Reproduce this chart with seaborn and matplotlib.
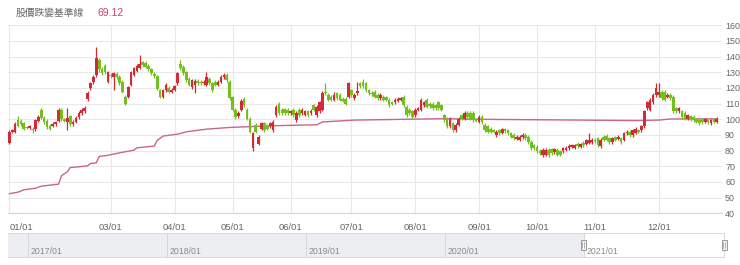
import numpy as np
import pandas as pd
import matplotlib
matplotlib.use("Agg")
import matplotlib.pyplot as plt
import seaborn as sns
from matplotlib.patches import Rectangle
from matplotlib.lines import Line2D

# ---------------- data ----------------
title_text = "股價跌變基準線"
title_value = "69.12"

month_idx = [0, 35, 57, 77, 97, 118, 140, 162, 182, 202, 224]
month_labels = ["01/01", "03/01", "04/01", "05/01", "06/01", "07/01",
                "08/01", "09/01", "10/01", "11/01", "12/01"]

opens = [
    # Jan-Feb
    85, 92, 92, 99.5, 99, 97.5, 95, 94.5, 94, 93.5, 99, 106, 101, 99, 96, 96, 97, 99, 106, 100,
    98, 102, 97, 98.5, 101.5, 104, 105, 113, 120, 123.5, 128, 138, 132, 134, 124,
    # Mar
    128.5, 127, 129, 127, 124, 114.5, 114.5, 122, 128.5, 131, 133, 136.5, 136, 134, 132, 129,
    127.5, 118.5, 114.5, 118.5, 120, 117.5,
    # Apr
    119, 123, 135.5, 133.5, 130, 126, 120.5, 122, 124.5, 124, 123, 122, 126, 123, 124, 122,
    124, 127, 128.5, 124,
    # May
    114.5, 106, 102, 106, 113, 106, 100.5, 81.5, 96.5, 84.5, 94, 97.5, 96, 95.5, 93, 102.5,
    110, 106, 106.5, 106,
    # Jun
    104, 106, 99.5, 106, 104, 103, 105, 104, 109, 102.5, 105, 106, 117.5, 115.5, 114.5, 112.5,
    116.5, 115.5, 113, 113, 114.5,
    # Jul
    118.5, 113.5, 116.5, 123, 124, 123, 118.5, 117, 117.5, 115.5, 113.5, 114.5, 114, 112.5,
    111, 111, 112, 112.5, 114.5, 108, 106, 105,
    # Aug
    102.5, 106, 106, 109, 112.5, 110, 110, 109, 111, 109, 102.5, 100.5, 95.5, 97.5, 93, 96.5,
    102.5, 100.5, 104, 104, 104, 100,
    # Sep
    98.5, 101.5, 96.5, 95.5, 94, 93, 90, 93, 91.5, 93.5, 93, 91, 90, 87.5, 87, 88.5, 90, 89,
    85.5, 83.5,
    # Oct
    82.5, 80, 77, 77.5, 80.5, 81, 79, 80.5, 79.5, 79.5, 80.5, 81.5, 82.5, 82, 84.5, 82.5, 85,
    84.5, 85, 85.5,
    # Nov
    87, 88, 83, 89, 89.5, 88, 85.5, 88.5, 87.5, 88, 87, 91, 92, 90, 91.5, 93, 93, 95.5, 107,
    106, 111, 115.5,
    # Dec
    115.5, 117.5, 117.5, 114.5, 115.5, 114.5, 107, 105, 105, 104, 100.5, 102, 101.5, 100, 99.5,
    100, 98.5, 99.5, 97.5, 100, 98.5,
]
closes = [
    92, 93, 97, 96, 97, 94, 94.5, 95.5, 93, 99.5, 101.5, 101, 98, 95, 94, 97, 98, 106, 100, 99,
    101, 97, 98.5, 101, 104, 106, 107.5, 117, 123, 127, 139, 132, 129.5, 130, 130,
    127.5, 129.5, 127, 123, 117.5, 110, 120.5, 130, 132.5, 134, 135, 134.5, 133.5, 132, 129.5,
    127.5, 119.5, 114.5, 118.5, 122, 117.5, 119,
    121, 129.5, 132.5, 129.5, 125, 122, 125, 124.5, 123, 123, 124, 127, 123, 118.5, 122, 124,
    127, 128.5, 125, 113.5,
    106, 101.5, 104, 112, 109, 100.5, 92, 91, 92, 89, 97.5, 93, 94, 97.5, 98.5, 108, 104, 104,
    104, 104,
    105, 102.5, 104, 102.5, 106, 105, 102.5, 105.5, 106, 108, 111, 117, 116.5, 112.5, 112.5,
    115.5, 113.5, 112.5, 112, 110, 123,
    115.5, 115.5, 118, 121, 121, 118.5, 116.5, 116, 114.5, 113.5, 115.5, 112.5, 112.5, 109,
    110, 112.5, 113, 113.5, 109, 102.5, 104, 101.5,
    106, 107, 112.5, 111, 108, 108.5, 107, 107, 107, 106, 99.5, 95.5, 100.5, 93, 96.5, 100.5,
    100.5, 104, 101.5, 100.5, 99.5, 99,
    101.5, 98, 93, 92, 92, 92, 92, 91, 93.5, 92.5, 91, 89, 88, 89, 89, 90, 88, 85.5, 81.5, 81.5,
    79.5, 78.5, 80.5, 80.5, 77, 78.5, 81, 77.5, 77.5, 81.5, 82, 83, 83.5, 83.5, 83, 84, 83.5,
    86.5, 87, 87,
    86, 83.5, 87, 87, 87, 85.5, 88, 87, 89, 85.5, 91, 92, 90, 93, 94, 92, 95.5, 105, 111, 112.5,
    115.5, 120,
    117.5, 113.5, 112.5, 115.5, 113.5, 105, 105, 107, 101.5, 100.5, 102.5, 100, 99.5, 98.5, 97.5,
    98, 100, 98, 99.5, 98.5, 100.5,
]
highs = [
    93, 94, 98, 102, 100, 98.5, 96, 96.5, 95, 100.5, 102.5, 107, 102, 100, 97, 98, 99, 107, 107,
    101, 107, 103, 99.5, 102, 105, 107, 108.5, 118, 124, 128, 146, 139, 133.5, 135, 131,
    129.5, 130.5, 130, 128, 125, 115.5, 121.5, 131, 133.5, 135, 141, 137.5, 137, 135, 133, 130,
    128.5, 119.5, 119.5, 123, 121, 120,
    122, 130.5, 138, 134.5, 131, 127, 126, 125.5, 125.5, 125, 125, 130, 127, 124, 125, 125, 128,
    129.5, 129.5, 125,
    115, 107, 105, 113, 114, 107, 101.5, 92, 97.5, 90, 98.5, 98.5, 97, 98.5, 99.5, 109, 111, 107,
    107.5, 107,
    106, 107, 105, 107, 107, 106, 106, 106.5, 110, 109, 112, 118, 123, 116.5, 115.5, 117.5,
    117.5, 116.5, 114, 114, 124,
    119.5, 116.5, 124, 124, 126, 124, 119.5, 118, 118.5, 116.5, 116.5, 115.5, 115, 113.5, 112,
    113.5, 114, 114.5, 115.5, 109, 107, 106,
    107, 108, 113.5, 112, 113.5, 111, 111, 110, 112, 110, 103.5, 101.5, 101.5, 98.5, 97.5,
    101.5, 103.5, 105, 105, 105, 105, 101,
    102.5, 102.5, 97.5, 96.5, 95, 94, 93, 94, 94.5, 94.5, 94, 92, 91, 90, 90, 91, 91, 90, 86.5,
    84.5,
    83.5, 81, 81.5, 81.5, 81.5, 82, 82, 81.5, 80.5, 82.5, 83, 84, 84.5, 84.5, 85.5, 85, 86, 87.5,
    91.5, 88,
    88, 89, 88, 90, 90.5, 89, 89, 89.5, 90, 89, 92, 93, 93, 94, 95, 94, 96.5, 106, 112, 113.5,
    116.5, 123,
    123, 118.5, 118.5, 116.5, 116.5, 115.5, 108, 108, 106, 105, 103.5, 103, 102.5, 101, 100.5,
    101, 101, 100.5, 100.5, 101, 101.5,
]
lows = [
    84, 91, 91, 95, 96, 93, 93.5, 93.5, 91, 92.5, 98, 100, 97, 94, 93, 95, 96, 98, 99, 98, 93,
    96, 96, 97.5, 100.5, 103, 104, 112, 119, 122.5, 127, 130.5, 128.5, 129, 123,
    126.5, 119, 126, 122, 116.5, 109, 113.5, 121, 127.5, 130, 132, 133.5, 132.5, 131, 128.5,
    126.5, 118.5, 113.5, 113.5, 117.5, 116.5, 116.5,
    118, 122, 131.5, 128.5, 124, 121, 119.5, 116.5, 122, 122, 122, 121, 122, 117.5, 121, 121,
    123, 126, 124, 112.5,
    105, 100.5, 101, 105, 108, 99.5, 91, 80, 91, 83.5, 93, 92, 93, 94.5, 92, 101.5, 103, 103,
    103, 103,
    103, 101.5, 98.5, 101.5, 103, 102, 101.5, 103, 105, 101.5, 104, 105, 115.5, 111.5, 111.5,
    111.5, 112.5, 111.5, 111, 109, 113.5,
    114.5, 112.5, 115.5, 120, 120, 117.5, 115.5, 115, 113.5, 112.5, 112.5, 111.5, 111.5, 108,
    109, 110, 111, 111.5, 108, 101.5, 103, 100.5,
    101.5, 105, 105, 108, 107, 107.5, 106, 106, 106, 105, 98.5, 94.5, 94.5, 92, 92, 95.5, 99.5,
    99.5, 100.5, 99.5, 98.5, 98,
    97.5, 97, 92, 91, 91, 91, 89, 90, 90.5, 91.5, 90, 88, 87, 86.5, 86, 87.5, 87, 84.5, 80.5,
    80.5,
    78.5, 77.5, 76, 76.5, 76, 77.5, 78, 76.5, 76.5, 78.5, 79.5, 80.5, 81.5, 81, 82, 81.5, 82.5,
    83.5, 84, 84.5,
    85, 82.5, 82, 86, 86, 84.5, 84.5, 86, 86.5, 84.5, 86, 90, 89, 89, 90.5, 91, 92, 94.5, 106,
    105, 110, 114.5,
    114.5, 112.5, 111.5, 113.5, 112.5, 104, 104, 104, 100.5, 99.5, 99.5, 99, 98.5, 97.5, 96.5,
    97, 97.5, 97, 96.5, 97.5, 97.5,
]

base_idx = [0, 3, 5, 9, 11, 17, 18, 20, 21, 24, 27, 28, 30, 31, 34, 38, 43, 44, 50, 51,
            53, 58, 61, 68, 76, 91, 106, 108, 119, 133, 150, 162, 190, 216, 224, 228, 244]
base_val = [52.5, 53.5, 55, 56, 57.3, 58.6, 64, 66.5, 69.2, 69.7, 70.3, 71.8, 72.2, 76.3,
            77, 78.6, 80.3, 81.8, 82.9, 86.5, 89.3, 90.5, 92, 93.7, 94.8, 95.9, 96.5, 98.3,
            99.5, 99.9, 100.4, 100, 99.6, 99.2, 99.5, 100.2, 100.3]

y_ticks = [40, 50, 60, 70, 80, 90, 100, 110, 120, 130, 140, 150, 160]
nav_years = [2017, 2018, 2019, 2020, 2021]
nav_labels = ["2017/01", "2018/01", "2019/01", "2020/01", "2021/01"]

# ---------------- style ----------------
sns.set_theme(style="white")
plt.rcParams["font.family"] = ["Liberation Sans", "Noto Sans CJK TC", "DejaVu Sans"]

UP = "#d22b34"
DOWN = "#74bf1e"
LINE = "#c9668c"
GRID = "#e9e9e9"
TXT = "#666666"

W, H = 740, 265
fig = plt.figure(figsize=(W / 100, H / 100), dpi=100)
fig.patch.set_facecolor("white")


def rect(x0, y0, x1, y1):
    return [x0 / W, 1 - y1 / H, (x1 - x0) / W, (y1 - y0) / H]


ax = fig.add_axes(rect(8, 25.3, 722, 213.3))

df = pd.DataFrame({"open": opens, "high": highs, "low": lows, "close": closes})
df["idx"] = np.arange(len(df))
df["up"] = df["close"] >= df["open"]

# grid
for yv in y_ticks:
    ax.axhline(yv, color=GRID, lw=0.8, zorder=0)
for xv in month_idx:
    ax.axvline(xv, color=GRID, lw=0.8, zorder=0)

# baseline
sns.lineplot(x=base_idx, y=base_val, ax=ax, color=LINE, lw=1.0, zorder=2)

# candles
cols = np.where(df["up"], UP, DOWN)
ax.vlines(df["idx"], df["low"], df["high"], colors=cols, lw=0.9, zorder=3)
body_lo = np.minimum(df["open"], df["close"])
body_h = np.maximum(np.abs(df["close"] - df["open"]), 0.6)
ax.bar(df["idx"], body_h, bottom=body_lo, width=0.92, color=cols, linewidth=0, zorder=4)

ax.set_xlim(-0.45, 245.8)
ax.set_ylim(40, 160)
for s in ["top", "left", "right"]:
    ax.spines[s].set_visible(False)
ax.spines["bottom"].set_color("#ccd6eb")
ax.spines["bottom"].set_linewidth(0.8)

ax.yaxis.tick_right()
ax.set_yticks(y_ticks)
ax.set_yticklabels([str(v) for v in y_ticks])
ax.tick_params(axis="y", length=0, pad=2.2, labelsize=6.4, labelcolor=TXT)
ax.set_xticks(month_idx)
ax.set_xticklabels(month_labels)
ax.tick_params(axis="x", length=4, width=0.8, color="#ccd6eb", pad=3,
               labelsize=6.8, labelcolor=TXT)
ax.get_xticklabels()[0].set_horizontalalignment("left")
ax.set_xlabel("")
ax.set_ylabel("")
ax.grid(False)

# title / legend text
fig.text(16 / W, 1 - 13 / H, title_text, fontsize=7, color=TXT, va="center", ha="left")
fig.text(98 / W, 1 - 13 / H, title_value, fontsize=7.5, color="#c0457a", va="center",
         ha="left")

# ---------------- navigator ----------------
axn = fig.add_axes(rect(8, 233, 724, 257))
x0n, x1n = 2017 - 20 / 140, 2021 + 141 / 140
axn.set_xlim(x0n, x1n)
axn.set_ylim(0, 1)
axn.axvspan(x0n, 2021.0, color="#eceef1", lw=0, zorder=0)
for yr, lab in zip(nav_years, nav_labels):
    axn.axvline(yr, color="#d4d6da", lw=0.7, zorder=1)
    axn.text(yr + 2.5 / 140, 0.22, lab, fontsize=6.3, color="#8a8a8a", va="center",
             ha="left")
axn.set_xticks([])
axn.set_yticks([])
for s in axn.spines.values():
    s.set_color("#d8d8d8")
    s.set_linewidth(0.7)
axn.spines["left"].set_visible(False)

# handles
for hx in (583, 724):
    fig.add_artist(Rectangle(((hx - 2.5) / W, 1 - 250 / H), 5 / W, 10 / H,
                             transform=fig.transFigure, facecolor="#f5f5f5",
                             edgecolor="#999999", lw=0.7, zorder=10))
    for dx in (-0.8, 0.8):
        fig.add_artist(Line2D([(hx + dx) / W] * 2, [1 - 248 / H, 1 - 242 / H],
                              transform=fig.transFigure, color="#999999", lw=0.5,
                              zorder=11))

fig.savefig("out.png", dpi=100, facecolor="white")
